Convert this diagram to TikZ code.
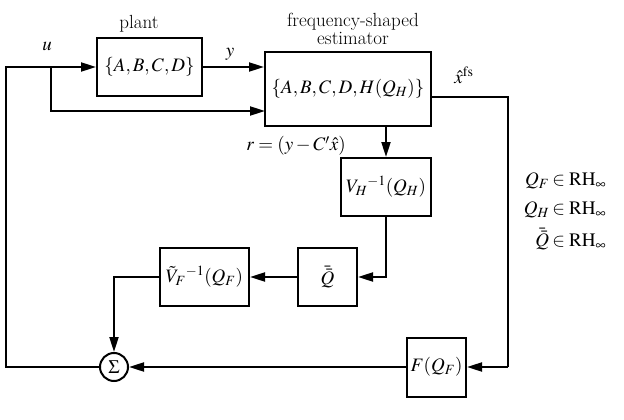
\documentclass[tikz,border=0pt]{standalone}
\usepackage{mathptmx}
\usetikzlibrary{arrows.meta,calc}
\begin{document}
\begin{tikzpicture}[x=1pt,y=-1pt,
  font=\fontsize{19}{22}\selectfont,
  blk/.style={draw,line width=2pt,rectangle,inner sep=0pt},
  wire/.style={line width=2pt},
  arr/.style={line width=2pt,-{Triangle[length=15pt,width=9pt]}},
  lbl/.style={inner sep=0pt}]
\useasboundingbox (0,0) rectangle (624,420);
% blocks
\node[blk,minimum width=105pt,minimum height=58pt] (plant) at (149.5,67) {$\{A,B,C,D\}$};
\node[blk,minimum width=166pt,minimum height=74pt] (est) at (348,89) {$\{A,B,C,D,H(Q_H)\}$};
\node[blk,minimum width=90pt,minimum height=58pt] (vh) at (386,187) {$V_H{}^{-1}(Q_H)$};
\node[blk,minimum width=59pt,minimum height=58pt] (qbar) at (327.5,277) {$\bar{\bar{Q}}$};
\node[blk,minimum width=89pt,minimum height=58pt] (vf) at (204.5,277) {$\tilde V_F{}^{-1}(Q_F)$};
\node[blk,minimum width=59pt,minimum height=59pt] (fq) at (436.5,367) {$F(Q_F)$};
\node[draw,circle,line width=2pt,minimum size=28pt,inner sep=0pt] (sig) at (114,367) {$\Sigma$};
% labels
\node[lbl] (lplant) at (139,24) {plant};
\node[lbl,align=center] (lest) at (353,29) {frequency-shaped\\[-4pt]estimator};
\node[lbl] (lu) at (47,46) {$u$};
\node[lbl] (ly) at (230,54) {$y$};
\node[lbl] (lx) at (464,75) {$\hat x^{\mathrm{fs}}$};
\node[lbl] (lr) at (296,146) {$r=(y-C'\hat x)$};
\node[lbl] (lset) at (565,212) {\begin{tabular}{@{}r@{\,}l@{}}
$Q_F$ & $\in\mathrm{RH}_\infty$\\[7pt]
$Q_H$ & $\in\mathrm{RH}_\infty$\\[7pt]
$\bar{\bar{Q}}$ & $\in\mathrm{RH}_\infty$
\end{tabular}};
% coordinates
\coordinate (lb) at (6,367);
\coordinate (br) at (51,67);
\coordinate (e2) at (265,111);
\coordinate (ro) at (508,97);
\coordinate (rb) at (508,367);
% connectors
\draw[arr] (sig.west) -- (lb) |- (plant.west);
\draw[arr] (br) |- (e2);
\draw[arr] (plant.east) -- (est.west |- plant.east);
\draw[wire] (est.east |- ro) -- (ro) -- (rb);
\draw[arr] (rb) -- (fq.east);
\draw[arr] (est.south -| vh.north) -- (vh.north);
\draw[arr] (vh.south) |- (qbar.east);
\draw[arr] (qbar.west) -- (vf.east);
\draw[arr] (vf.west) -| (sig.north);
\draw[arr] (fq.west) -- (sig.east);
\end{tikzpicture}
\end{document}
